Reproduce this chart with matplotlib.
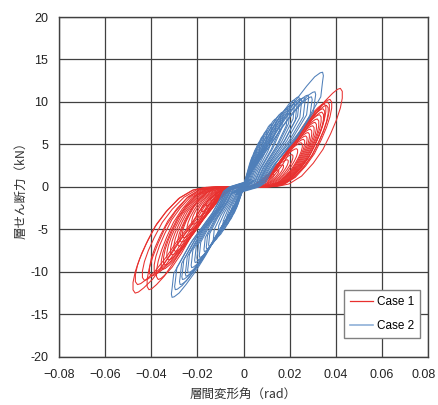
import matplotlib
matplotlib.use("Agg")
import matplotlib.pyplot as plt
from matplotlib.transforms import Affine2D, ScaledTranslation

# peak points of each cycle (drift angle rad, shear kN)
case1_pos_x = [0.042, 0.0375, 0.0365, 0.036, 0.035, 0.0345, 0.034, 0.033, 0.032, 0.031, 0.030,
               0.029, 0.028, 0.027, 0.026, 0.025, 0.023, 0.021, 0.019, 0.017, 0.015, 0.013]
case1_pos_f = [11.6, 10.3, 10.0, 9.6, 9.8, 9.2, 8.8, 8.5, 8.0, 7.6, 7.2,
               6.8, 6.4, 6.0, 5.6, 5.2, 4.5, 3.8, 3.2, 2.6, 2.0, 1.5]
case1_neg_x = [-0.047, -0.046, -0.043, -0.041, -0.040, -0.038, -0.037, -0.035, -0.034, -0.0326, -0.031,
               -0.0296, -0.028, -0.027, -0.026, -0.024, -0.022, -0.020, -0.018, -0.016, -0.014, -0.012]
case1_neg_f = [-12.5, -11.5, -11.0, -12.1, -10.5, -10.2, -10.9, -9.7, -9.2, -8.6, -8.0,
               -7.6, -7.0, -6.5, -6.0, -5.2, -4.4, -3.6, -2.9, -2.2, -1.6, -1.1]

case2_pos_x = [0.0343, 0.031, 0.0295, 0.028, 0.0265, 0.025, 0.024, 0.023, 0.022, 0.020,
               0.019, 0.017, 0.016, 0.014, 0.012, 0.010, 0.0085, 0.007, 0.0055, 0.004]
case2_pos_f = [13.5, 11.2, 10.6, 10.8, 10.5, 10.4, 10.6, 10.0, 10.2, 9.5,
               9.2, 8.8, 8.5, 8.0, 7.4, 6.6, 6.0, 5.3, 4.5, 3.6]
case2_neg_x = [-0.031, -0.0296, -0.0275, -0.0265, -0.025, -0.024, -0.0225, -0.021, -0.020, -0.019,
               -0.017, -0.016, -0.015, -0.013, -0.011, -0.009, -0.0075, -0.006, -0.0045, -0.0035]
case2_neg_f = [-13.0, -12.1, -11.5, -10.9, -10.5, -10.1, -9.5, -8.9, -8.6, -8.3,
               -7.6, -7.3, -7.0, -6.4, -5.8, -5.1, -4.5, -3.9, -3.2, -2.6]

# half-loop shape (fraction of peak drift, fraction of peak force)
case1_loop_u = [0.0, 0.08, 0.17, 0.25, 0.32, 0.40, 0.47, 0.55, 0.63, 0.73, 0.84, 0.92, 0.97, 1.0,
                1.02, 1.02, 1.0, 0.96, 0.9, 0.82, 0.72, 0.6, 0.47, 0.35, 0.2, 0.08, 0.0]
case1_loop_v = [0.0, 0.0, 0.02, 0.06, 0.12, 0.22, 0.34, 0.45, 0.56, 0.72, 0.87, 0.95, 0.99, 1.0,
                0.97, 0.9, 0.8, 0.68, 0.54, 0.38, 0.24, 0.11, 0.03, 0.005, 0.0, 0.0, 0.0]
case2_loop_u = [-0.15, -0.05, 0.04, 0.12, 0.25, 0.4, 0.53, 0.66, 0.8, 0.9, 0.97, 1.0,
                1.01, 1.0, 0.977, 0.9, 0.75, 0.6, 0.44, 0.34, 0.28, 0.2, 0.1, 0.0, -0.1]
case2_loop_v = [-0.06, -0.01, 0.06, 0.17, 0.31, 0.47, 0.62, 0.755, 0.88, 0.96, 0.995, 1.0,
                0.97, 0.92, 0.785, 0.695, 0.52, 0.385, 0.24, 0.12, 0.04, 0.0, -0.02, -0.04, -0.07]

x_ticks = [-0.08, -0.06, -0.04, -0.02, 0, 0.02, 0.04, 0.06, 0.08]
x_labels = ["\u22120.08", "\u22120.06", "\u22120.04", "\u22120.02", "0", "0.02", "0.04", "0.06", "0.08"]
y_ticks = [-20, -15, -10, -5, 0, 5, 10, 15, 20]
y_labels = ["-20", "-15", "-10", "-5", "0", "5", "10", "15", "20"]

red = "#e8302e"
blue = "#4f7fb9"

plt.rcParams['font.family'] = ['Liberation Sans', 'DejaVu Sans']
jp = ['Noto Sans CJK JP', 'DejaVu Sans']

fig = plt.figure(figsize=(4.38, 4.05), dpi=100)
ax = fig.add_axes([0.135, 0.119, 0.842, 0.839])
ax.set_xlim(-0.08, 0.08)
ax.set_ylim(-20, 20)


def draw_case(px, pf, nx, nf, lu, lv, color):
    # each half cycle is the loop shape scaled to its peak
    for i in range(len(px)):
        tr = Affine2D().scale(px[i], pf[i]) + ax.transData
        ax.plot(lu, lv, color=color, lw=0.75, transform=tr, solid_joinstyle='round')
    for i in range(len(nx)):
        tr = Affine2D().scale(nx[i], nf[i]) + ax.transData
        ax.plot(lu, lv, color=color, lw=0.75, transform=tr, solid_joinstyle='round')


draw_case(case1_pos_x, case1_pos_f, case1_neg_x, case1_neg_f, case1_loop_u, case1_loop_v, red)
draw_case(case2_pos_x, case2_pos_f, case2_neg_x, case2_neg_f, case2_loop_u, case2_loop_v, blue)

# legend handles
ax.plot([], [], color=red, lw=0.9, label="Case 1")
ax.plot([], [], color="#8fb0d8", lw=1.2, label="Case 2")

ax.set_xticks(x_ticks)
ax.set_xticklabels(x_labels)
ax.set_yticks(y_ticks)
ax.set_yticklabels(y_labels)
ax.tick_params(length=0, labelsize=9, colors="#222222")
ax.tick_params(axis='x', pad=9)
ax.tick_params(axis='y', pad=8)
ax.grid(True, color="#404040", lw=0.9)
ax.set_axisbelow(True)
for s in ax.spines.values():
    s.set_color("#404040")
    s.set_linewidth(1.0)

# last x label sits a little left so it stays inside the picture
last = ax.get_xticklabels()[-1]
last.set_transform(last.get_transform() + ScaledTranslation(-4 / 100, 0, fig.dpi_scale_trans))

ax.set_xlabel("層間変形角（rad）", family=jp, fontsize=9, color="#333333", labelpad=5)
ax.set_ylabel("層せん断力（kN）", family=jp, fontsize=9, color="#333333", labelpad=2)

leg = ax.legend(loc='lower right', bbox_to_anchor=(0.978, 0.056), fontsize=8.5,
                frameon=True, fancybox=False, handlelength=2.0, labelspacing=1.0,
                borderpad=0.5, handletextpad=0.3, borderaxespad=0)
leg.get_frame().set_edgecolor("#808080")
leg.get_frame().set_linewidth(1.0)
leg.get_frame().set_alpha(1.0)

fig.savefig("out.png", dpi=100)
